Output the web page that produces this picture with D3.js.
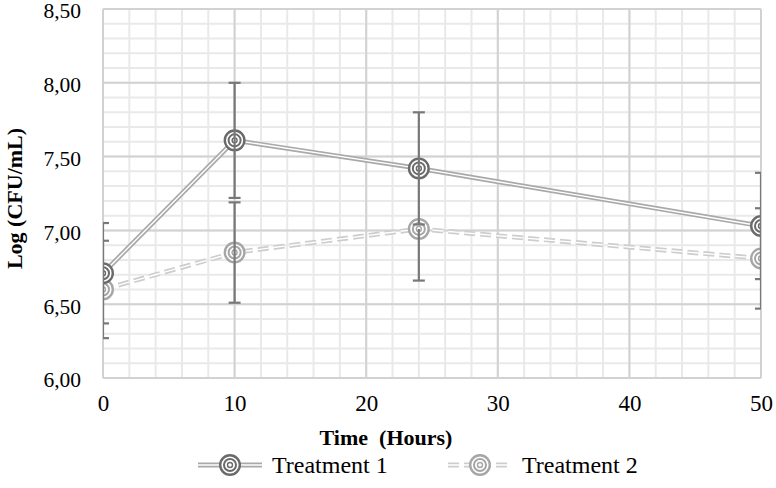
<!DOCTYPE html>
<html><head><meta charset="utf-8">
<script src="https://cdn.jsdelivr.net/npm/d3@7"></script>
<style>body{margin:0;background:#fff}svg{display:block}text{font-family:"Liberation Serif","DejaVu Serif","Times New Roman",serif !important}</style>
</head><body><svg id="c" width="776" height="488"></svg>
<script>
const hours = [0, 10, 24, 50];
const seriesNames = ["Treatment 1", "Treatment 2"];
const t1 = [6.71, 7.61, 7.42, 7.03];
const t2 = [6.60, 6.85, 7.01, 6.81];
const t1ErrPlus = [0.34, 0.39, 0.38, 0.36];
const t1ErrMinus = [0.34, 0.39, 0.38, 0.36];
const t2ErrPlus = [0.33, 0.34, 0.00, 0.34];
const t2ErrMinus = [0.33, 0.34, 0.35, 0.34];
const xTicks = [0, 10, 20, 30, 40, 50];
const yTicks = [6.0, 6.5, 7.0, 7.5, 8.0, 8.5];
const xTitle = "Time  (Hours)";
const yTitle = "Log (CFU/mL)";

const svg = d3.select("#c");
const L = 103, R = 761, T = 9, B = 378;
const x = d3.scaleLinear().domain([0, 50]).range([L, R]);
const y = d3.scaleLinear().domain([6, 8.5]).range([B, T]);
const fmt = v => d3.format(".2f")(v).replace(".", ",");

// grid
const g = svg.append("g");
const xMinor = d3.range(0, 50.001, 2);
const yMinor = d3.range(6, 8.5001, 0.1);
g.selectAll(".xm").data(xMinor).join("line")
  .attr("x1", d => x(d)).attr("x2", d => x(d)).attr("y1", T).attr("y2", B)
  .attr("stroke", "#e9e9e9").attr("stroke-width", 2);
g.selectAll(".ym").data(yMinor).join("line")
  .attr("y1", d => y(d)).attr("y2", d => y(d)).attr("x1", L).attr("x2", R)
  .attr("stroke", "#e9e9e9").attr("stroke-width", 2);
g.selectAll(".xM").data(xTicks).join("line")
  .attr("x1", d => x(d)).attr("x2", d => x(d)).attr("y1", T).attr("y2", B)
  .attr("stroke", "#d2d2d2").attr("stroke-width", 2);
g.selectAll(".yM").data(yTicks).join("line")
  .attr("y1", d => y(d)).attr("y2", d => y(d)).attr("x1", L).attr("x2", R)
  .attr("stroke", "#d2d2d2").attr("stroke-width", 2);

// axes labels via d3 axes
const xAxis = svg.append("g").attr("transform", `translate(0,${B})`)
  .call(d3.axisBottom(x).tickValues(xTicks).tickSize(0).tickPadding(17).tickFormat(d3.format("d")));
xAxis.select(".domain").remove();
xAxis.selectAll("text").attr("font-size", 23).attr("fill", "#000");
const yAxis = svg.append("g").attr("transform", `translate(${L},2)`)
  .call(d3.axisLeft(y).tickValues(yTicks).tickSize(0).tickPadding(22).tickFormat(fmt));
yAxis.select(".domain").remove();
yAxis.selectAll("text").attr("font-size", 21.5).attr("fill", "#000");

svg.append("text").attr("x", (L + R) / 2 - 46).attr("y", 445).attr("text-anchor", "middle")
  .attr("font-size", 22).attr("font-weight", "bold").attr("xml:space", "preserve").text(xTitle);
svg.append("text").attr("transform", `translate(22,${(T + B) / 2 + 5}) rotate(-90)`).attr("text-anchor", "middle")
  .attr("font-size", 22).attr("font-weight", "bold").text(yTitle);

svg.append("defs").append("clipPath").attr("id", "pc").append("rect")
  .attr("x", L).attr("y", T - 2).attr("width", R - L).attr("height", B - T + 4);
const plot = svg.append("g").attr("clip-path", "url(#pc)");

const series = [
  {name: seriesNames[0], vals: t1, ep: t1ErrPlus, em: t1ErrMinus, line: "#a9a9a9", mk: "#6a6a6a", dash: null},
  {name: seriesNames[1], vals: t2, ep: t2ErrPlus, em: t2ErrMinus, line: "#cdcdcd", mk: "#a6a6a6", dash: "11,5"}
];
const lineGen = d3.line().x((d, i) => x(hours[i])).y(d => y(d));

function drawDoubleLine(sel, d, s) {
  sel.append("path").attr("d", d).attr("fill", "none").attr("stroke", s.line).attr("stroke-width", 4.8)
    .attr("stroke-dasharray", s.dash);
  sel.append("path").attr("d", d).attr("fill", "none").attr("stroke", "#fff").attr("stroke-width", 1.4)
    .attr("stroke-dasharray", s.dash);
}
function drawMarker(sel, cx, cy, s) {
  sel.append("circle").attr("cx", cx).attr("cy", cy).attr("r", 9.8).attr("fill", "#fff")
    .attr("stroke", s.mk).attr("stroke-width", 2.4);
  sel.append("circle").attr("cx", cx).attr("cy", cy).attr("r", 6).attr("fill", "none")
    .attr("stroke", s.mk).attr("stroke-width", 2);
  sel.append("circle").attr("cx", cx).attr("cy", cy).attr("r", 2.5).attr("fill", "none")
    .attr("stroke", s.mk).attr("stroke-width", 1.4);
}

series.slice().reverse().forEach(s => drawDoubleLine(plot, lineGen(s.vals), s));
series.slice().reverse().forEach(s => s.vals.forEach((v, i) => drawMarker(plot, x(hours[i]), y(v), s)));

// error bars
const eb = plot.append("g").attr("stroke", "#787878").attr("stroke-width", 2.2);
series.forEach(s => s.vals.forEach((v, i) => {
  const cx = x(hours[i]);
  const y1 = y(v + s.ep[i]), y2 = y(v - s.em[i]);
  eb.append("line").attr("x1", cx).attr("x2", cx).attr("y1", y1).attr("y2", y2);
  if (s.ep[i] > 0) eb.append("line").attr("x1", cx - 6).attr("x2", cx + 6).attr("y1", y1).attr("y2", y1);
  if (s.em[i] > 0) eb.append("line").attr("x1", cx - 6).attr("x2", cx + 6).attr("y1", y2).attr("y2", y2);
}));

// legend
const legendX = [198, 448];
series.forEach((s, k) => {
  const lg = svg.append("g");
  const x0 = legendX[k], ly = 465;
  drawDoubleLine(lg, `M${x0},${ly}H${x0 + 64}`, s);
  drawMarker(lg, x0 + 32, ly, s);
  lg.append("text").attr("x", x0 + 74).attr("y", ly + 8).attr("font-size", 24).text(s.name);
});
</script></body></html>
